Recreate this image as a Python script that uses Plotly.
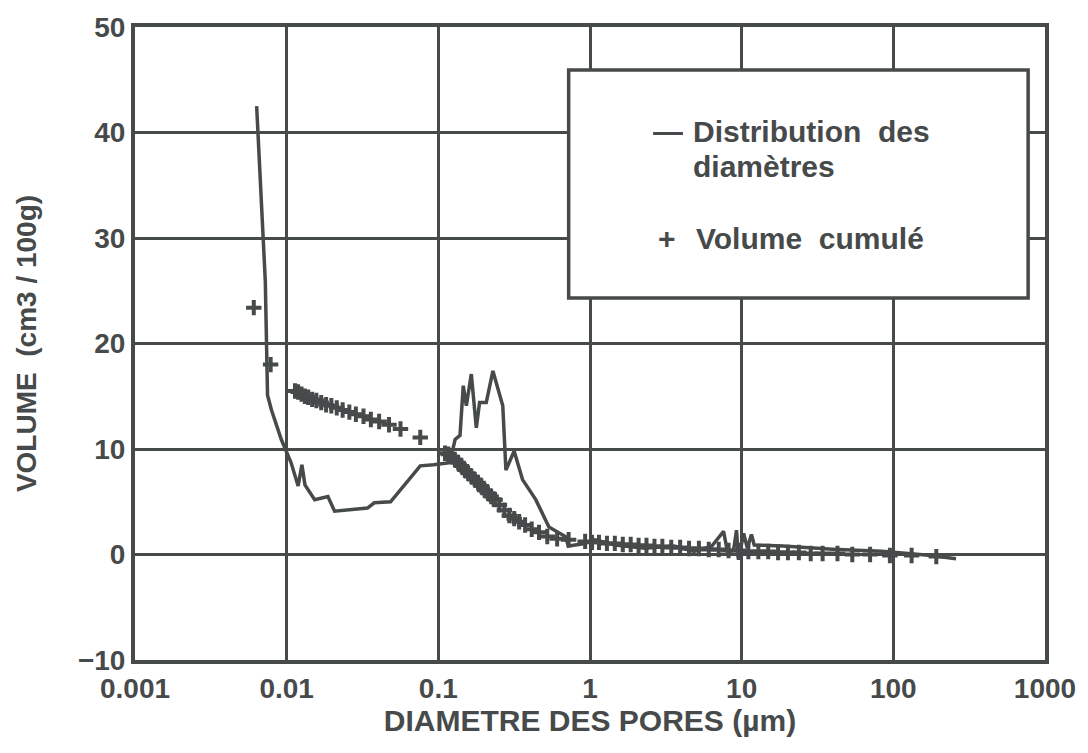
import plotly.graph_objects as go

INK = "#474a4a"

# Pore-size distribution curve (diameter in µm, volume in cm3/100g)
dist_diam = [0.00634, 0.00684, 0.00723, 0.00748, 0.00794, 0.00922, 0.0107, 0.0119,
             0.0126, 0.0132, 0.0153, 0.0187, 0.0207, 0.0341, 0.0378, 0.0484,
             0.0760, 0.0929, 0.119, 0.129, 0.139, 0.146, 0.153, 0.165, 0.178,
             0.187, 0.207, 0.229, 0.266, 0.279, 0.316, 0.359, 0.439, 0.536,
             0.689, 0.720, 0.883, 1.08, 1.46, 2.29, 3.59, 4.85, 6.36, 7.60,
             8.07, 8.84, 9.25, 9.53, 10.3, 10.9, 11.6, 12.1, 18.7, 39.7, 84.1,
             178, 259]
dist_vol = [42.5, 33.5, 25.9, 15.1, 13.7, 10.9, 8.7, 6.5,
            8.5, 6.6, 5.2, 5.5, 4.1, 4.4, 4.9, 5.0,
            8.4, 8.5, 8.7, 10.9, 11.3, 16.0, 14.1, 17.1, 12.0,
            14.4, 14.4, 17.4, 14.1, 8.0, 9.8, 7.1, 5.2, 2.6,
            1.7, 0.8, 1.0, 1.4, 0.9, 0.6, 0.8, 0.3, 0.8, 2.2,
            0.2, 0.4, 2.3, -0.5, 2.0, 0.6, 1.9, 0.9, 0.8, 0.5, 0.3,
            -0.1, -0.4]

# Cumulative intruded volume
cum_diam = [0.00607, 0.00784,
            0.01135, 0.0119, 0.01253, 0.01318, 0.01386, 0.01472, 0.0157, 0.0169,
            0.0182, 0.0197, 0.0214, 0.0234, 0.0259, 0.0286, 0.0321, 0.0359,
            0.0407, 0.0473, 0.0563, 0.0760,
            0.1107, 0.1164, 0.1222, 0.1285, 0.1352, 0.1422, 0.1495, 0.1572,
            0.1652, 0.1738, 0.1828, 0.1921, 0.2019, 0.2123, 0.2231, 0.2368,
            0.2527, 0.2725, 0.2937, 0.3164, 0.3411, 0.3733, 0.4128, 0.4612,
            0.5227, 0.6071, 0.7227,
            0.929, 1.032, 1.146, 1.293, 1.458, 1.645, 1.855, 2.091, 2.357,
            2.661, 3.0, 3.434, 3.929, 4.498, 5.224, 6.068, 7.06, 8.2, 9.53,
            11.07, 12.88, 14.96, 17.38, 20.19, 23.83, 28.53, 34.18, 42.83,
            53.63, 70.27, 94.9, 132, 192]
cum_vol = [23.4, 18.0,
           15.5, 15.4, 15.2, 15.0, 14.9, 14.7, 14.6, 14.4,
           14.2, 14.1, 13.9, 13.7, 13.5, 13.3, 13.1, 12.8,
           12.6, 12.3, 11.9, 11.1,
           9.6, 9.5, 9.3, 9.0, 8.7, 8.4, 8.0, 7.7,
           7.4, 7.1, 6.8, 6.5, 6.1, 5.8, 5.5, 5.2,
           4.7, 4.2, 3.7, 3.4, 3.1, 2.8, 2.4, 2.1,
           1.7, 1.5, 1.4,
           1.24, 1.15, 1.15, 1.05, 1.05, 0.95, 0.95, 0.86, 0.86,
           0.76, 0.76, 0.67, 0.67, 0.57, 0.57, 0.48, 0.48, 0.38, 0.38,
           0.29, 0.29, 0.29, 0.19, 0.19, 0.19, 0.10, 0.10, 0.10,
           0.0, 0.0, -0.1, -0.1, -0.2]

x_ticks = [0.001, 0.01, 0.1, 1, 10, 100, 1000]
x_tick_text = ["0.001", "0.01", "0.1", "1", "10", "100", "1000"]
y_ticks = [-10, 0, 10, 20, 30, 40, 50]

NB = "\u00a0"
legend_symbols = ["—", "+"]
legend_texts = ["Distribution" + NB * 2 + "des", "diamètres", "Volume" + NB * 2 + "cumulé"]

FONT = "Liberation Sans"

# plot frame in page pixels
L, R, T, B = 135, 1052, 27, 660


def px(xp):
    return (xp - L) / (R - L)


def py(yp):
    return (B - yp) / (B - T)


fig = go.Figure()
fig.add_trace(go.Scatter(
    x=dist_diam, y=dist_vol, mode="lines",
    line=dict(color=INK, width=3.5),
    name="Distribution des diamètres", showlegend=False,
))
fig.add_trace(go.Scatter(
    x=cum_diam, y=cum_vol, mode="markers",
    marker=dict(symbol="cross-thin", size=11, line=dict(color=INK, width=4)),
    name="Volume cumulé", showlegend=False,
))

# legend box
fig.add_shape(type="rect", xref="paper", yref="paper",
              x0=px(572), x1=px(1035), y0=py(298), y1=py(70),
              line=dict(color=INK, width=3.5), fillcolor="white", layer="above")

legend_font = dict(family=FONT, size=30, color=INK, weight="bold")
for xp, yp, txt in [(655, 131, legend_symbols[0]), (660, 238, legend_symbols[1]),
                    (695, 131, legend_texts[0]), (695, 166, legend_texts[1]),
                    (698, 238, legend_texts[2])]:
    fig.add_annotation(xref="paper", yref="paper", x=px(xp), y=py(yp),
                       xanchor="left", yanchor="middle", text=txt,
                       height=26, valign="middle",
                       showarrow=False, font=legend_font)

axis_common = dict(
    showgrid=True, gridcolor=INK, gridwidth=3,
    showline=True, linecolor=INK, linewidth=4, mirror=True,
    ticks="", zeroline=False,
    tickfont=dict(family=FONT, size=28, color=INK, weight="bold"),
)

fig.update_layout(
    width=1088, height=753,
    margin=dict(l=L, r=1088 - R, t=T, b=753 - B),
    paper_bgcolor="white", plot_bgcolor="white",
    xaxis=dict(type="log", range=[-3, 3], tickvals=x_ticks, ticktext=x_tick_text,
               title=dict(text="DIAMETRE DES PORES (µm)", standoff=0,
                          font=dict(family=FONT, size=30, color=INK, weight="bold")),
               **axis_common),
    yaxis=dict(range=[-10, 50], tickvals=y_ticks,
               title=dict(text="VOLUME" + NB * 2 + "(cm3" + NB + "/" + NB + "100g)", standoff=34,
                          font=dict(family=FONT, size=28, color=INK, weight="bold")),
               **axis_common),
)

fig.write_html("out.html")
